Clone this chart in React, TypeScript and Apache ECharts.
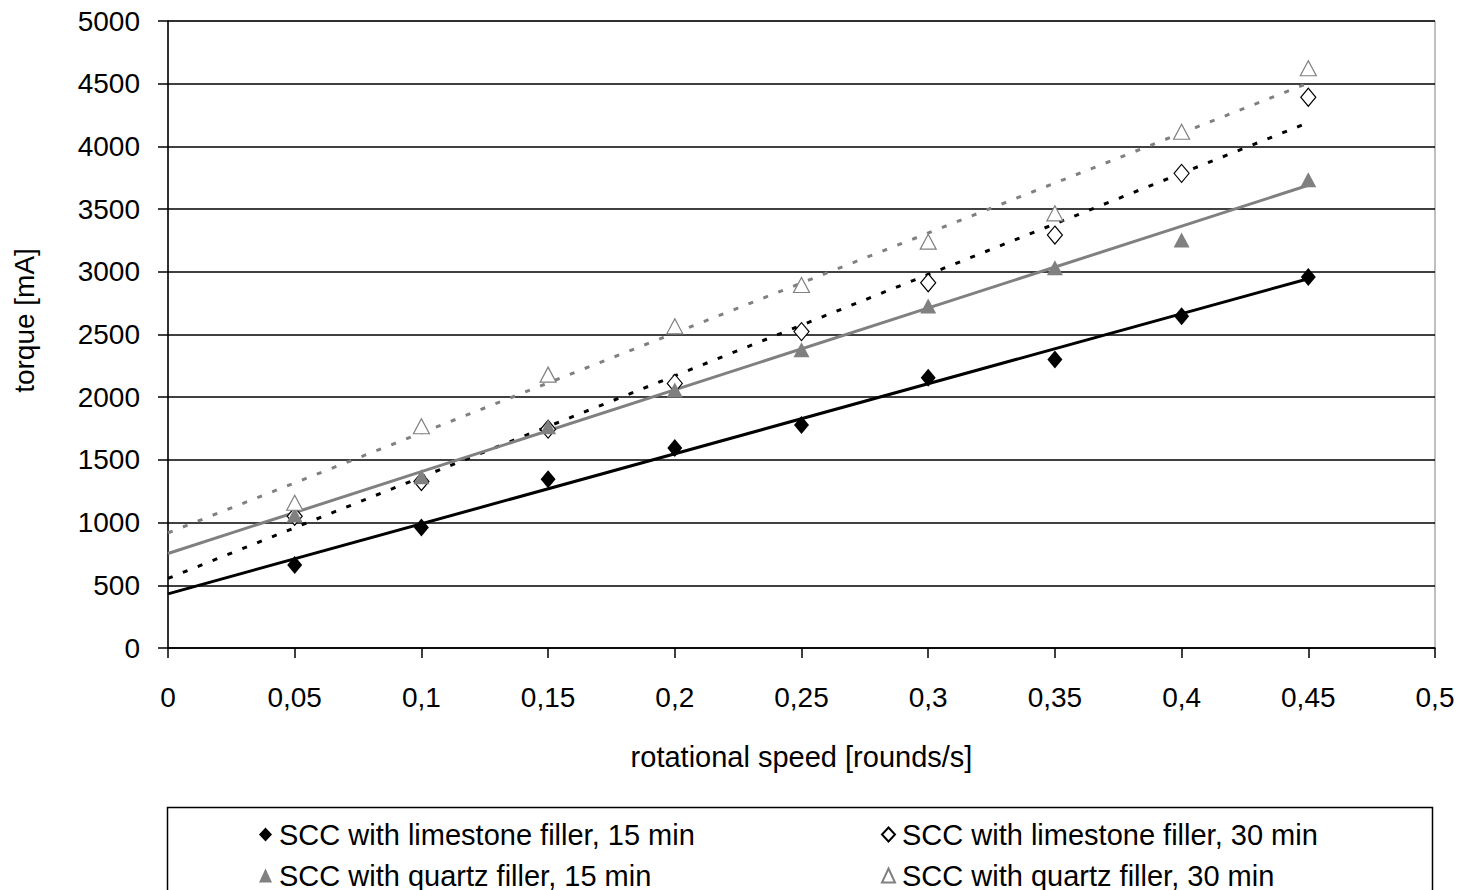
import React, { useEffect, useRef } from "react";
import * as echarts from "echarts";

const speeds = [0.05, 0.1, 0.15, 0.2, 0.25, 0.3, 0.35, 0.4, 0.45];
const limestone15 = [662, 960, 1345, 1595, 1778, 2155, 2300, 2645, 2958];
const limestone30 = [1050, 1328, 1745, 2110, 2523, 2913, 3293, 3785, 4392];
const quartz15 = [1060, 1365, 1765, 2057, 2378, 2727, 3032, 3254, 3735];
const quartz30 = [1158, 1768, 2180, 2565, 2895, 3240, 3466, 4117, 4623];

// trendline endpoints: [value at 0, value at 0.45]
const trendX = [0, 0.45];
const trendLimestone15 = [432, 2945];
const trendLimestone30 = [555, 4190];
const trendQuartz15 = [754, 3690];
const trendQuartz30 = [918, 4505];

const xTickLabels = ["0", "0,05", "0,1", "0,15", "0,2", "0,25", "0,3", "0,35", "0,4", "0,45", "0,5"];

const names = [
  "SCC with limestone filler, 15 min",
  "SCC with limestone filler, 30 min",
  "SCC with quartz filler, 15 min",
  "SCC with quartz filler, 30 min",
];

const FONT = "Liberation Sans, Arial, sans-serif";
const GREY = "#808080";

const pairs = (xs: number[], ys: number[]) => xs.map((x, i) => [x, ys[i]]);

export default function App() {
  const ref = useRef<HTMLDivElement>(null);
  useEffect(() => {
    if (!ref.current) return;
    const chart = echarts.init(ref.current, undefined, { renderer: "svg" });
    const trend = (data: number[], color: string, dashed: boolean) => ({
      type: "line",
      data: pairs(trendX, data),
      showSymbol: false,
      symbol: "none",
      silent: true,
      z: 2,
      lineStyle: dashed
        ? { color, width: 3, type: [5, 11] }
        : { color, width: 3, type: "solid" },
    });
    const legendAt = (name: string, left: number, top: number) => ({
      left,
      top,
      orient: "horizontal",
      itemWidth: 13,
      itemHeight: 14,
      itemGap: 0,
      data: [name],
      selectedMode: false,
      textStyle: { fontSize: 29, color: "#000", fontFamily: FONT, padding: [0, 0, 0, 2] },
    });
    chart.setOption({
      animation: false,
      backgroundColor: "#fff",
      textStyle: { fontFamily: FONT },
      grid: {
        left: 168,
        right: 27,
        top: 21,
        bottom: 242,
        show: true,
        borderColor: GREY,
        borderWidth: 1,
      },
      xAxis: {
        type: "value",
        min: 0,
        max: 0.5,
        interval: 0.05,
        name: "rotational speed [rounds/s]",
        nameLocation: "middle",
        nameGap: 94,
        nameTextStyle: { fontSize: 29, color: "#000", fontFamily: FONT },
        axisLine: { lineStyle: { color: "#000", width: 1.5 } },
        axisTick: { show: true, inside: false, length: 10, lineStyle: { color: "#000", width: 1.5 } },
        axisLabel: {
          margin: 35,
          fontSize: 28,
          color: "#000",
          fontFamily: FONT,
          formatter: (v: number) => xTickLabels[Math.round(v / 0.05)] ?? "",
        },
        splitLine: { show: false },
      },
      yAxis: {
        type: "value",
        min: 0,
        max: 5000,
        interval: 500,
        name: "torque [mA]",
        nameLocation: "middle",
        nameGap: 130,
        nameTextStyle: { fontSize: 28, color: "#000", fontFamily: FONT, padding: [0, 0, 0, 28] },
        axisLine: { show: true, lineStyle: { color: "#000", width: 1.5 } },
        axisTick: { show: true, inside: false, length: 10, lineStyle: { color: "#000", width: 1.5 } },
        axisLabel: {
          margin: 28,
          fontSize: 28,
          color: "#000",
          fontFamily: FONT,
          formatter: (v: number) => String(v),
        },
        splitLine: { show: true, lineStyle: { color: "#000", width: 1.5 } },
      },
      legend: [
        legendAt(names[0], 254, 815),
        legendAt(names[2], 254, 856),
        legendAt(names[1], 876, 815),
        legendAt(names[3], 876, 856),
      ],
      graphic: [
        {
          type: "rect",
          left: 165,
          top: 805,
          shape: { width: 1265, height: 100 },
          style: { fill: "none", stroke: "#000", lineWidth: 1.5 },
          silent: true,
        },
      ],
      series: [
        trend(trendLimestone15, "#000", false),
        trend(trendLimestone30, "#000", true),
        trend(trendQuartz15, GREY, false),
        trend(trendQuartz30, GREY, true),
        {
          name: names[1],
          type: "scatter",
          z: 5,
          symbol: "diamond",
          symbolSize: [15, 18],
          data: pairs(speeds, limestone30),
          itemStyle: { color: "#fff", borderColor: "#000", borderWidth: 1.2, opacity: 1 },
        },
        {
          name: names[2],
          type: "scatter",
          z: 5,
          symbol: "triangle",
          symbolSize: [16, 15],
          data: pairs(speeds, quartz15),
          itemStyle: { color: GREY, opacity: 1 },
        },
        {
          name: names[0],
          type: "scatter",
          z: 5,
          symbol: "diamond",
          symbolSize: [15, 18],
          data: pairs(speeds, limestone15),
          itemStyle: { color: "#000", opacity: 1 },
        },
        {
          name: names[3],
          type: "scatter",
          z: 5,
          symbol: "triangle",
          symbolSize: [16, 15],
          data: pairs(speeds, quartz30),
          itemStyle: { color: "#fff", borderColor: GREY, borderWidth: 1.2, opacity: 1 },
        },
      ],
    });
    return () => chart.dispose();
  }, []);
  return <div ref={ref} style={{ width: 1462, height: 890, position: "absolute", left: 0, top: 0 }} />;
}
